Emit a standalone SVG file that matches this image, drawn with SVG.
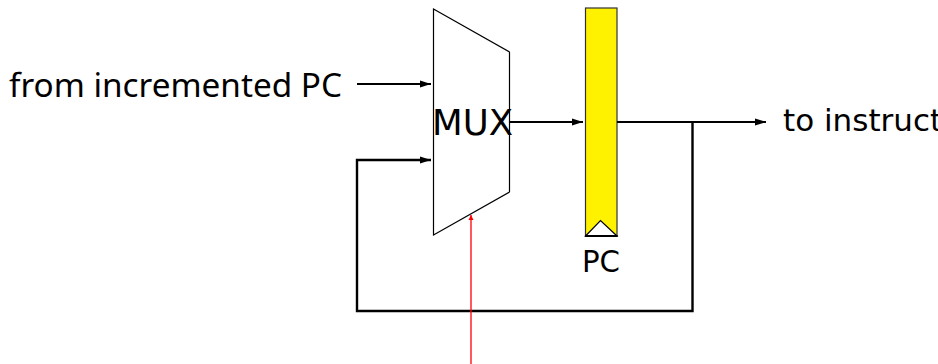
<svg xmlns="http://www.w3.org/2000/svg" width="938" height="364" viewBox="0 0 938 364">
<style>
.t{font-family:"Noto Sans","DejaVu Sans",sans-serif;font-size:33px;fill:#000}
.d{font-family:"DejaVu Sans",sans-serif;fill:#000}
.w{fill:none;stroke:#000;stroke-width:2}
</style>
<defs>
<marker id="a" markerUnits="userSpaceOnUse" markerWidth="12" markerHeight="8" refX="11" refY="4" orient="auto"><path d="M0 0.5L11 4L0 7.5z" fill="#000"/></marker>
<marker id="r" markerUnits="userSpaceOnUse" markerWidth="6" markerHeight="6" refX="5" refY="3" orient="auto"><path d="M0 0.5L5 3L0 5.5z" fill="#f00"/></marker>
</defs>
<g id="mux"><polygon points="433.5,9 509.5,52 509.5,192 433.5,235" fill="#fff" stroke="#000" stroke-width="1.2"/><text class="d" x="432" y="135" font-size="35.500" textLength="81" lengthAdjust="spacingAndGlyphs">MUX</text></g>
<g id="pc"><rect x="585.5" y="8" width="31.5" height="228" fill="#fff200" stroke="#333" stroke-width="1.2"/><polygon points="585.5,236 600.5,220.5 617,236" fill="#fff" stroke="#000" stroke-width="1.2"/><path d="M585 236H617.5" stroke="#000" stroke-width="2" fill="none"/><text class="d" x="582" y="272" font-size="29.500" textLength="38" lengthAdjust="spacingAndGlyphs">PC</text></g>
<g id="from-label"><text class="t" x="9" y="97" textLength="333" lengthAdjust="spacingAndGlyphs">from incremented PC</text></g>
<g id="to-label"><text class="d" x="783" y="131" font-size="31">to instruct</text></g>
<g id="connectors">
<path class="w" d="M357 84H431" marker-end="url(#a)"/>
<path class="w" d="M510 122H583" marker-end="url(#a)"/>
<path class="w" d="M617 122H766" marker-end="url(#a)"/>
<path class="w" stroke-width="2.400" style="stroke-width:2.400px" d="M431 160H357V311H692.500V122"/>
<path d="M420 160H431" class="w" marker-end="url(#a)"/>
<path d="M471 364V215" fill="none" stroke="#f00" stroke-width="1.300" marker-end="url(#r)"/>
</g>
</svg>
